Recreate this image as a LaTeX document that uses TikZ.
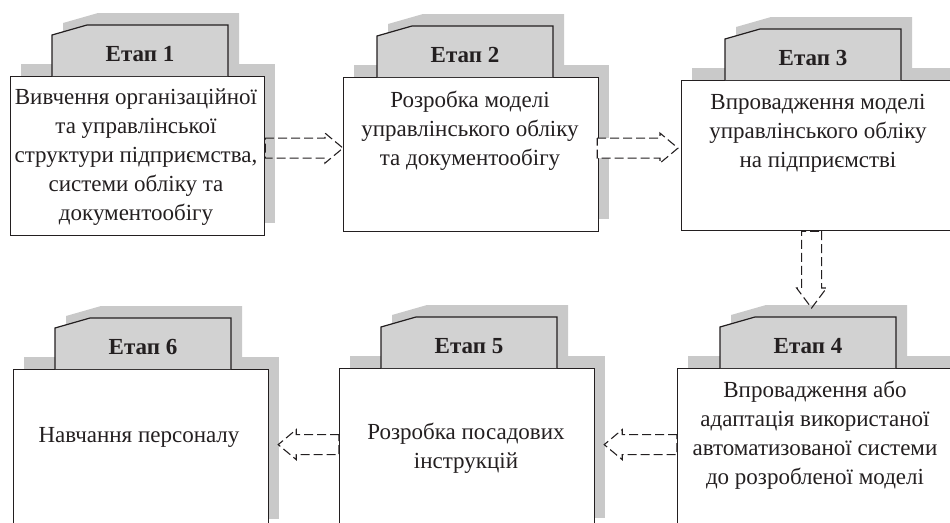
\documentclass[tikz,border=0pt]{standalone}
\usepackage{fontspec}
\setmainfont{Liberation Serif}
\usetikzlibrary{calc}
\definecolor{ink}{HTML}{231F20}
\definecolor{shadowgray}{HTML}{C9C9C9}
\definecolor{tabfill}{HTML}{D2D2D2}
\tikzset{
  boxnode/.style={draw=ink, fill=white, line width=1.2pt, inner sep=0pt, rectangle},
  tabshape/.style={draw=ink, fill=tabfill, line width=1.2pt, line join=miter},
  titletext/.style={font=\fontsize{23}{26}\selectfont\bfseries, text=ink, inner sep=0pt},
  bodytext/.style={font=\fontsize{23}{29}\selectfont, text=ink, align=center, inner sep=0pt},
  blockarrow/.style={draw=ink, line width=1.1pt, dash pattern=on 9pt off 4pt, line join=miter}
}
% #1 name, #2 left, #3 top, #4 width, #5 height, #6 tab left, #7 title
\newcommand\stagebox[7]{%
  \fill[shadowgray] (#2+11,#3-12) rectangle (#2+#4+11,#3+#5-12);
  \fill[shadowgray] (#6+11,#3-12) -- (#6+11,#3-53) -- (#6+46,#3-63) -- (#6+187,#3-63) -- (#6+187,#3-12) -- cycle;
  \node[boxnode, minimum width=#4, minimum height=#5, anchor=north west] (#1) at (#2,#3) {};
  \draw[tabshape] (#6,#3) -- (#6,#3-41) -- (#6+35,#3-51) -- (#6+176,#3-51) -- (#6+176,#3);
  \node[titletext] (#1t) at (#6+88,#3-22) {#7};
}
% horizontal block arrow from #2 to tip #3
\newcommand\harrow[3][]{%
  \draw[blockarrow,#1] let \p1=(#2), \p2=(#3), \n1={(\x2>\x1) ? 1 : -1} in
    (\x1,\y1+10pt) -- (\x2-\n1*18pt,\y1+10pt) -- (\x2-\n1*18pt,\y1+15pt) -- (\x2,\y1)
    -- (\x2-\n1*18pt,\y1-15pt) -- (\x2-\n1*18pt,\y1-10pt) -- (\x1,\y1-10pt) -- cycle;
}
\newcommand\varrow[3][]{%
  \draw[blockarrow,#1] let \p1=(#2), \p2=(#3), \n1={(\y2>\y1) ? 1 : -1} in
    (\x1+10pt,\y1) -- (\x1+10pt,\y2-\n1*20pt) -- (\x1+15pt,\y2-\n1*20pt) -- (\x1,\y2)
    -- (\x1-15pt,\y2-\n1*20pt) -- (\x1-10pt,\y2-\n1*20pt) -- (\x1-10pt,\y1) -- cycle;
}
\begin{document}
\begin{tikzpicture}[x=1pt,y=-1pt]
\useasboundingbox (0,0) rectangle (950,522);
\clip (0,0) rectangle (950,522);

\stagebox{b1}{10}{76}{254}{159}{52}{Етап 1}
\stagebox{b2}{343}{77}{255}{154}{377}{Етап 2}
\stagebox{b3}{681}{80}{274}{150}{725}{Етап 3}
\stagebox{b4}{677}{368}{278}{162}{720}{Етап 4}
\stagebox{b5}{339}{368}{255}{162}{381}{Етап 5}
\stagebox{b6}{13}{369}{255}{162}{55}{Етап 6}

\node[bodytext] (t1) at (136,157) {Вивчення організаційної\\та управлінської\\структури підприємства,\\системи обліку та\\документообігу};
\node[bodytext] (t2) at (470,131) {Розробка моделі\\управлінського обліку\\та документообігу};
\node[bodytext] (t3) at (818,133) {Впровадження моделі\\управлінського обліку\\на підприємстві};
\node[bodytext] (t4) at (815,435) {Впровадження або\\адаптація використаної\\автоматизованої системи\\до розробленої моделі};
\node[bodytext] (t5) at (466,448) {Розробка посадових\\інструкцій};
\node[bodytext] (t6) at (139,437) {Навчання персоналу};

\coordinate (a12s) at ($(b1.east)+(0,-8)$);
\coordinate (a12e) at (b2.west |- a12s);
\coordinate (a23s) at ($(b2.east)+(-2,-6.5)$);
\coordinate (a23e) at ($(b3.west |- a23s)+(-3,0)$);
\coordinate (a34s) at ($(b3.south)+(-7,0)$);
\coordinate (a34e) at ($(a34s |- b4.north)+(0,-60)$);
\coordinate (a45s) at ($(b4.west)+(0,-5)$);
\coordinate (a45e) at ($(b5.east |- a45s)+(9,0)$);
\coordinate (a56s) at ($(b5.west)+(0,-5)$);
\coordinate (a56e) at ($(b6.east |- a56s)+(9,0)$);

\harrow{a12s}{a12e}
\harrow[fill=white]{a23s}{a23e}
\varrow{a34s}{a34e}
\harrow{a45s}{a45e}
\harrow{a56s}{a56e}
\end{tikzpicture}
\end{document}
